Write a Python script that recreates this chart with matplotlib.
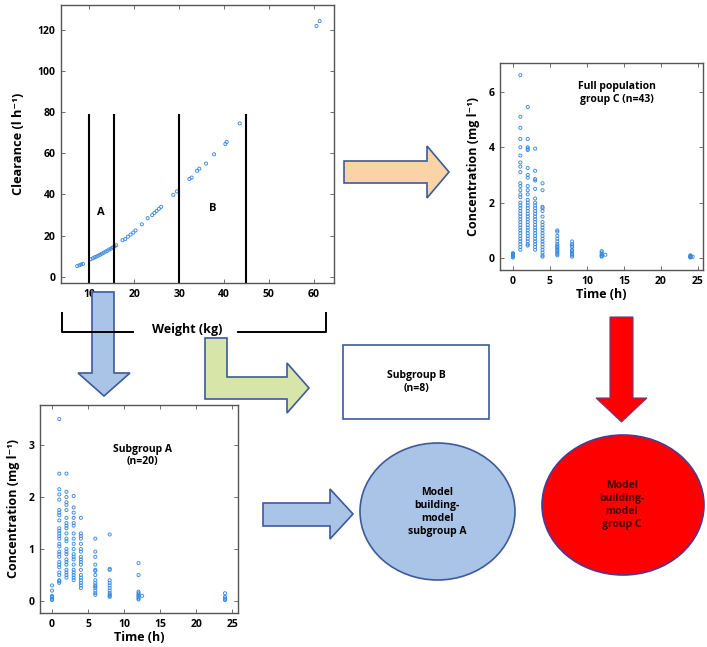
import matplotlib
import numpy as np

matplotlib.use('Agg')
import matplotlib.pyplot as plt
from matplotlib.patches import Ellipse, Polygon, Rectangle

plt.rcParams['font.family'] = ['Open Sans', 'DejaVu Sans']
plt.rcParams['font.weight'] = 'bold'

W_PX, H_PX = 707, 647

# clearance vs weight
WEIGHT_KG = [7.3, 7.8, 8.2, 8.6, 10.3, 10.8, 11.2, 11.6, 12.0, 12.4, 12.8, 13.2, 13.6, 14.0,
             14.4, 14.8, 15.2, 15.6, 16.0, 17.4, 18.0, 18.6, 19.2, 19.8, 20.3, 21.7, 23.0,
             24.0, 24.5, 25.0, 25.5, 26.0, 28.7, 29.5, 32.3, 32.8, 34.0, 34.5, 36.0, 37.8,
             40.3, 40.6, 43.5, 60.6, 61.3]
CLEARANCE = [5.2, 5.6, 6.0, 6.3, 8.5, 9.0, 9.5, 9.8, 10.3, 10.7, 11.2, 11.7, 12.2, 12.6,
             13.2, 13.7, 14.2, 14.8, 15.3, 17.8, 18.3, 19.5, 20.5, 21.5, 22.5, 25.5, 28.5,
             30.0, 31.0, 32.0, 33.0, 34.0, 39.8, 41.5, 47.5, 48.2, 51.5, 52.5, 55.0, 59.5,
             64.5, 65.5, 74.5, 121.8, 124.2]
CUT_WEIGHTS = [10, 15.5, 30, 45]

SAMPLE_TIMES = [0, 1, 2, 3, 4, 6, 8, 12, 24]

# full population, group C
C_CONC_0H = [0.02, 0.05, 0.08, 0.1, 0.12, 0.15, 0.18]
C_CONC_1H = [6.6, 5.1, 4.7, 4.3, 4.0, 3.7, 3.45, 3.3, 3.1, 2.7, 2.6, 2.45, 2.3, 2.2, 2.0,
             1.9, 1.8, 1.7, 1.6, 1.5, 1.4, 1.3, 1.2, 1.1, 1.0, 0.9, 0.8, 0.7, 0.6, 0.5,
             0.4, 0.3]
C_CONC_2H = [5.45, 4.3, 4.0, 3.95, 3.9, 3.25, 3.0, 2.9, 2.6, 2.45, 2.3, 2.1, 2.0, 1.9,
             1.8, 1.7, 1.6, 1.5, 1.4, 1.3, 1.2, 1.1, 1.0, 0.9, 0.8, 0.7, 0.6, 0.5, 0.45]
C_CONC_3H = [3.95, 3.15, 2.85, 2.8, 2.5, 2.15, 2.0, 1.9, 1.8, 1.7, 1.6, 1.5, 1.4, 1.3,
             1.2, 1.1, 1.0, 0.9, 0.8, 0.7, 0.6, 0.5, 0.4, 0.3]
C_CONC_4H = [2.7, 2.45, 1.85, 1.8, 1.7, 1.5, 1.3, 1.2, 1.1, 1.0, 0.9, 0.8, 0.7, 0.6, 0.5,
             0.4, 0.3, 0.2, 0.1, 0.05]
C_CONC_6H = [1.0, 0.95, 0.8, 0.7, 0.6, 0.5, 0.45, 0.4, 0.35, 0.3, 0.25, 0.2, 0.15, 0.1]
C_CONC_8H = [0.6, 0.5, 0.45, 0.4, 0.3, 0.25, 0.2, 0.15, 0.1, 0.05]
C_CONC_12H = [0.25, 0.2, 0.15, 0.1, 0.08, 0.05]
C_CONC_24H = [0.02, 0.04, 0.05, 0.06, 0.08, 0.1]
C_LATE_TIME = [12.5, 24.3]
C_LATE_CONC = [0.12, 0.05]

# subgroup A
A_CONC_0H = [0.3, 0.2, 0.1, 0.08, 0.05, 0.03, 0.02]
A_CONC_1H = [3.5, 2.45, 2.15, 2.05, 1.95, 1.75, 1.7, 1.65, 1.55, 1.4, 1.35, 1.3, 1.25,
             1.2, 1.1, 1.05, 0.95, 0.9, 0.85, 0.75, 0.7, 0.65, 0.55, 0.5, 0.4, 0.38, 0.35]
A_CONC_2H = [2.45, 2.1, 2.0, 1.9, 1.85, 1.75, 1.6, 1.5, 1.45, 1.4, 1.3, 1.2, 1.15, 1.0,
             0.95, 0.9, 0.8, 0.75, 0.7, 0.6, 0.55, 0.5, 0.45]
A_CONC_3H = [2.02, 1.8, 1.7, 1.6, 1.5, 1.45, 1.3, 1.2, 1.1, 1.0, 0.9, 0.85, 0.8, 0.7,
             0.6, 0.55, 0.5, 0.45, 0.4]
A_CONC_4H = [1.6, 1.3, 1.25, 1.2, 1.1, 1.0, 0.95, 0.85, 0.8, 0.75, 0.7, 0.6, 0.5, 0.45,
             0.4, 0.35, 0.3, 0.25]
A_CONC_6H = [1.2, 0.95, 0.85, 0.7, 0.6, 0.58, 0.5, 0.4, 0.35, 0.3, 0.28, 0.25, 0.2,
             0.15, 0.12]
A_CONC_8H = [1.28, 0.62, 0.6, 0.4, 0.35, 0.3, 0.25, 0.2, 0.15, 0.12, 0.1, 0.08]
A_CONC_12H = [0.73, 0.5, 0.18, 0.15, 0.12, 0.1, 0.08, 0.05, 0.03]
A_CONC_24H = [0.15, 0.08, 0.05, 0.03, 0.02]
A_LATE_TIME = [12.5]
A_LATE_CONC = [0.1]

POINT_COLOR = '#3a8ade'
SPINE_COLOR = '#555555'
ARROW_EDGE = '#3d5a99'


def px_axes(fig, x0, y0, x1, y1):
    return fig.add_axes([x0 / W_PX, 1 - y1 / H_PX, (x1 - x0) / W_PX, (y1 - y0) / H_PX])


def style_axes(ax):
    for sp in ax.spines.values():
        sp.set_color(SPINE_COLOR)
        sp.set_linewidth(1.0)
    ax.tick_params(direction='in', top=True, right=True, length=3, width=0.6,
                   color=SPINE_COLOR, labelsize=7.5, pad=4)
    for lab in ax.get_xticklabels() + ax.get_yticklabels():
        lab.set_fontweight('bold')


def open_points(ax, x, y):
    ax.scatter(x, y, s=5, facecolors='none', edgecolors=POINT_COLOR, linewidths=0.65)


def conc_scatter(ax, series, late_t, late_c):
    for t, vals in zip(SAMPLE_TIMES, series):
        open_points(ax, np.full(len(vals), t, dtype=float), vals)
    open_points(ax, late_t, late_c)


fig = plt.figure(figsize=(W_PX / 100, H_PX / 100), dpi=100)

# clearance panel
ax1 = px_axes(fig, 61, 5, 334, 283)
open_points(ax1, WEIGHT_KG, CLEARANCE)
ax1.vlines(CUT_WEIGHTS, -3, 79, color='black', linewidth=1.5)
ax1.text(12.5, 31, 'A', ha='center', va='center', fontsize=8, fontweight='bold')
ax1.text(37.6, 33, 'B', ha='center', va='center', fontsize=8, fontweight='bold')
ax1.set_xlim(3.7, 64.5)
ax1.set_ylim(-3, 132)
ax1.set_xticks([10, 20, 30, 40, 50, 60])
ax1.set_yticks([0, 20, 40, 60, 80, 100, 120])
ax1.set_ylabel('Clearance (l h⁻¹)', fontsize=9.2, fontweight='bold', labelpad=9)
style_axes(ax1)

# full population panel
ax2 = px_axes(fig, 500, 63, 703, 270)
conc_scatter(ax2, [C_CONC_0H, C_CONC_1H, C_CONC_2H, C_CONC_3H, C_CONC_4H, C_CONC_6H,
                   C_CONC_8H, C_CONC_12H, C_CONC_24H], C_LATE_TIME, C_LATE_CONC)
ax2.set_xlim(-1.75, 25.7)
ax2.set_ylim(-0.43, 7.04)
ax2.set_xticks([0, 5, 10, 15, 20, 25])
ax2.set_yticks([0, 2, 4, 6])
ax2.text(14, 5.95, 'Full population\ngroup C (n=43)', ha='center', va='center',
         fontsize=7.5, fontweight='bold', linespacing=1.2)
ax2.set_ylabel('Concentration (mg l⁻¹)', fontsize=9, fontweight='bold', labelpad=6)
ax2.set_xlabel('Time (h)', fontsize=9, fontweight='bold', labelpad=1)
style_axes(ax2)

# subgroup A panel
ax3 = px_axes(fig, 40, 405, 238, 613)
conc_scatter(ax3, [A_CONC_0H, A_CONC_1H, A_CONC_2H, A_CONC_3H, A_CONC_4H, A_CONC_6H,
                   A_CONC_8H, A_CONC_12H, A_CONC_24H], A_LATE_TIME, A_LATE_CONC)
ax3.set_xlim(-1.67, 25.8)
ax3.set_ylim(-0.23, 3.77)
ax3.set_xticks([0, 5, 10, 15, 20, 25])
ax3.set_yticks([0, 1, 2, 3])
ax3.text(12.6, 2.8, 'Subgroup A\n(n=20)', ha='center', va='center',
         fontsize=7.5, fontweight='bold', linespacing=1.2)
ax3.set_ylabel('Concentration (mg l⁻¹)', fontsize=9, fontweight='bold', labelpad=6)
ax3.set_xlabel('Time (h)', fontsize=9, fontweight='bold', labelpad=1)
style_axes(ax3)

# overlay for the flow diagram, in pixel units
ov = fig.add_axes([0, 0, 1, 1], zorder=10)
ov.set_xlim(0, W_PX)
ov.set_ylim(H_PX, 0)
ov.axis('off')
ov.patch.set_alpha(0)

# weight bracket
ov.plot([62, 62, 133], [313, 332, 332], color='black', lw=1.4)
ov.plot([238, 326, 326], [332, 332, 313], color='black', lw=1.4)
ov.text(187, 329, 'Weight (kg)', ha='center', va='center', fontsize=9, fontweight='bold')


def down_arrow(x0, x1, y0, yh, hx0, hx1, ytip):
    xm = (hx0 + hx1) / 2
    return [(x0, y0), (x1, y0), (x1, yh), (hx1, yh), (xm, ytip), (hx0, yh), (x0, yh)]


def right_arrow(xs, xh, y0, y1, hy0, hy1, xtip):
    ym = (hy0 + hy1) / 2
    return [(xs, y0), (xh, y0), (xh, hy0), (xtip, ym), (xh, hy1), (xh, y1), (xs, y1)]


shapes = [
    (down_arrow(92, 114, 292, 373, 78, 130, 396), '#a9c4e6'),
    (right_arrow(344, 427, 161, 183, 146, 198, 449), '#fad4a6'),
    (right_arrow(263, 330, 503, 526, 489, 539, 353), '#a9c4e6'),
    ([(205, 338), (227, 338), (227, 377), (287, 377), (287, 363), (309, 388),
      (287, 413), (287, 399), (205, 399)], '#d8e5a8'),
]
for verts, fc in shapes:
    ov.add_patch(Polygon(verts, closed=True, facecolor=fc, edgecolor=ARROW_EDGE, lw=1.2))

ov.add_patch(Polygon(down_arrow(610, 633, 317, 398, 596, 647, 422), closed=True,
                     facecolor='#ff0000', edgecolor='#6a3a8a', lw=0.8))

ov.add_patch(Rectangle((343, 345), 146, 74, facecolor='white', edgecolor=ARROW_EDGE, lw=1.2))
ov.text(416, 382, 'Subgroup B\n(n=8)', ha='center', va='center', fontsize=7.5,
        fontweight='bold', linespacing=1.2)

ov.add_patch(Ellipse((437.5, 511.5), 155, 137, facecolor='#a9c4e6', edgecolor=ARROW_EDGE, lw=1.2))
ov.text(437, 512, 'Model\nbuilding-\nmodel\nsubgroup A', ha='center', va='center',
        fontsize=7.5, fontweight='bold', linespacing=1.25)

ov.add_patch(Ellipse((623, 505), 162, 140, facecolor='#ff0000', edgecolor='#4a3a9a', lw=1.2))
ov.text(622, 505, 'Model\nbuilding-\nmodel\ngroup C', ha='center', va='center',
        fontsize=7.5, fontweight='bold', linespacing=1.25, color='#4a0000')

fig.savefig('out.png', dpi=100)
plt.close(fig)
